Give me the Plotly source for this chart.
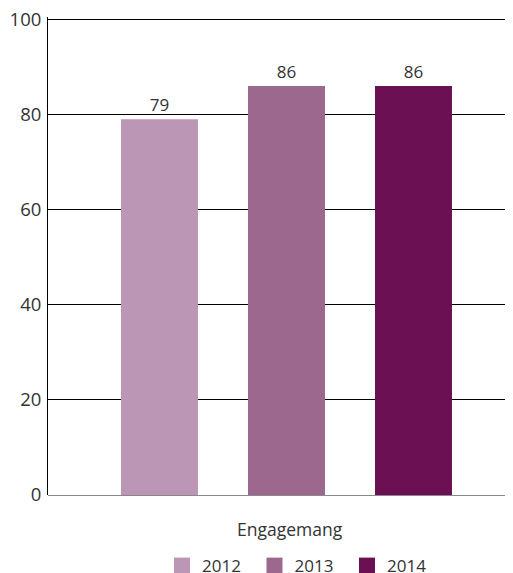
import plotly.graph_objects as go

category = ["Engagemang"]
years = ["2012", "2013", "2014"]
values = [79, 86, 86]
colors = ["#BB96B5", "#9C688D", "#6B1153"]
y_ticks = [0, 20, 40, 60, 80, 100]

fig = go.Figure()
for yr, v, c in zip(years, values, colors):
    fig.add_trace(go.Bar(
        x=[0], y=[v], name=yr, marker_color=c, marker_line_width=0,
        text=[str(v)], textposition="outside", cliponaxis=False,
        textfont=dict(size=17, color="#333333"), showlegend=False,
    ))
    fig.add_trace(go.Scatter(
        x=[None], y=[None], name=yr, mode="markers",
        marker=dict(symbol="square", size=20, color=c), showlegend=True,
    ))

fig.add_annotation(text=category[0], xref="paper", yref="paper",
                   x=0.5106, y=-0.0714, xanchor="center", yanchor="middle",
                   showarrow=False, font=dict(size=17.5, color="#333333"))

fig.update_layout(
    width=513, height=573,
    margin=dict(l=40, r=0, t=8.6, b=86, autoexpand=False),
    paper_bgcolor="white", plot_bgcolor="white",
    barmode="group", bargap=0.1945, bargroupgap=0.394,
    font=dict(family="Open Sans, Noto Sans, sans-serif", color="#333333", size=17),
    legend=dict(orientation="h", x=0.241, xanchor="left", y=-0.111, yanchor="top",
                font=dict(size=17, color="#333333"), traceorder="normal",
                entrywidth=47.5, tracegroupgap=0),
    xaxis=dict(range=[-0.5042, 0.4958], showticklabels=False, showgrid=False,
               zeroline=False, showline=False, ticks="", automargin=False),
    yaxis=dict(range=[0, 100.5], tickvals=y_ticks, showgrid=True, gridcolor="black",
               gridwidth=1, zeroline=True, zerolinecolor="#888888", zerolinewidth=1,
               showline=True, linecolor="black", linewidth=1,
               ticks="inside", ticklen=12, tickcolor="black", tickwidth=1,
               automargin=False, ticklabeloverflow="allow", ticklabelstandoff=2,
               tickfont=dict(size=18.5, color="#333333")),
)

fig.write_html("out.html")
